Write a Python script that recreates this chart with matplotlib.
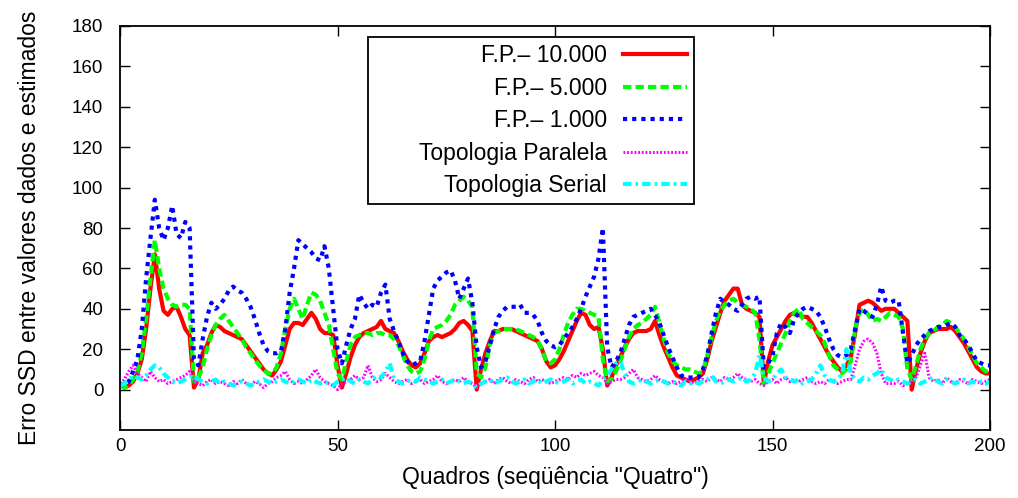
import matplotlib
matplotlib.use('Agg')
import matplotlib.pyplot as plt
import numpy as np

plt.rcParams['font.family'] = ['Liberation Sans', 'DejaVu Sans']

# SSD error per frame of the "Quatro" sequence
frames = np.arange(0, 201)

fp_10000 = [
    3, 1, 2, 4, 8, 15, 30, 50, 67, 50,
    39, 37, 40, 41, 36, 30, 27, 1, 5, 18,
    22, 28, 32, 31, 29, 28, 27, 26, 25, 22,
    19, 16, 13, 10, 8, 7, 10, 14, 22, 30,
    33, 33, 32, 35, 38, 35, 30, 28, 28, 27,
    12, 1, 8, 16, 22, 26, 28, 29, 30, 31,
    34, 30, 29, 28, 24, 19, 15, 12, 11, 13,
    18, 24, 26, 27, 26, 27, 28, 30, 33, 34,
    32, 29, 0, 10, 18, 24, 29, 29, 30, 30,
    30, 29, 28, 27, 26, 25, 24, 20, 14, 11,
    12, 15, 19, 24, 29, 34, 38, 37, 32, 30,
    31, 20, 2, 6, 12, 16, 21, 25, 28, 29,
    29, 29, 30, 34, 27, 21, 16, 11, 7, 6,
    5, 4, 5, 6, 8, 15, 24, 31, 38, 44,
    47, 50, 50, 42, 40, 39, 38, 36, 3, 14,
    22, 26, 30, 34, 37, 38, 37, 36, 36, 33,
    29, 25, 21, 17, 14, 11, 9, 12, 16, 28,
    42, 43, 44, 43, 41, 39, 40, 40, 40, 38,
    36, 34, 0, 10, 18, 24, 28, 29, 30, 30,
    30, 31, 29, 26, 23, 19, 15, 11, 9, 8,
    8,
]

fp_5000 = [
    2, 1, 2, 5, 9, 18, 35, 55, 74, 60,
    50, 45, 42, 41, 42, 42, 40, 4, 6, 11,
    20, 27, 32, 35, 37, 34, 31, 28, 25, 21,
    18, 15, 12, 10, 8, 8, 11, 18, 30, 40,
    45, 40, 35, 42, 48, 47, 44, 38, 32, 20,
    8, 5, 14, 22, 26, 27, 28, 28, 27, 28,
    28, 27, 27, 25, 22, 17, 12, 9, 8, 9,
    15, 24, 30, 31, 32, 34, 37, 42, 44, 46,
    44, 41, 8, 6, 11, 22, 28, 29, 30, 30,
    30, 30, 29, 28, 27, 26, 24, 20, 14, 13,
    15, 20, 27, 33, 37, 40, 40, 39, 38, 37,
    36, 15, 4, 5, 9, 14, 20, 26, 30, 32,
    33, 35, 37, 41, 33, 25, 18, 14, 12, 11,
    10, 10, 9, 8, 9, 17, 26, 34, 39, 42,
    44, 45, 43, 42, 41, 40, 38, 25, 3, 8,
    13, 18, 23, 28, 34, 38, 40, 35, 33, 31,
    29, 27, 23, 17, 12, 10, 8, 10, 14, 30,
    38, 40, 37, 34, 35, 34, 36, 38, 37, 36,
    30, 10, 5, 12, 20, 25, 28, 29, 31, 32,
    34, 33, 31, 28, 25, 21, 17, 13, 11, 9,
    9,
]

fp_1000 = [
    3, 2, 4, 9, 15, 30, 55, 75, 94, 80,
    74, 80, 91, 77, 75, 83, 80, 15, 12, 25,
    36, 43, 40, 42, 45, 49, 51, 49, 48, 45,
    41, 35, 28, 22, 19, 18, 18, 19, 30, 48,
    60, 74, 72, 70, 68, 65, 64, 71, 60, 40,
    20, 13, 22, 30, 35, 47, 43, 40, 42, 41,
    48, 52, 35, 29, 24, 18, 14, 12, 13, 14,
    24, 37, 50, 54, 56, 58, 59, 54, 45, 50,
    55, 43, 21, 11, 14, 22, 30, 36, 39, 41,
    41, 41, 42, 38, 38, 37, 34, 28, 24, 22,
    21, 22, 25, 28, 31, 35, 40, 46, 51, 56,
    65, 80, 21, 11, 14, 18, 25, 32, 36, 37,
    38, 39, 40, 37, 33, 27, 21, 16, 11, 7,
    6, 6, 6, 6, 10, 17, 28, 38, 45, 43,
    42, 40, 39, 42, 45, 46, 45, 46, 11, 13,
    17, 28, 33, 31, 28, 35, 38, 40, 41, 40,
    39, 36, 31, 25, 20, 17, 16, 17, 20, 30,
    40, 39, 37, 36, 42, 51, 44, 43, 44, 44,
    28, 13, 17, 22, 25, 27, 29, 30, 31, 31,
    32, 33, 31, 27, 25, 22, 18, 14, 13, 12,
    12,
]

paralela = [
    3, 5, 9, 12, 8, 6, 4, 9, 6, 4,
    5, 3, 4, 5, 6, 7, 9, 4, 3, 2,
    4, 5, 3, 4, 3, 2, 4, 3, 5, 3,
    2, 4, 3, 1, 3, 4, 6, 7, 9, 5,
    3, 4, 3, 5, 7, 10, 6, 4, 3, 2,
    0, 3, 4, 5, 7, 5, 6, 12, 6, 4,
    5, 8, 6, 4, 3, 4, 5, 3, 4, 5,
    3, 4, 5, 7, 4, 3, 4, 5, 4, 6,
    4, 3, 1, 3, 4, 5, 3, 5, 6, 4,
    3, 5, 4, 3, 5, 6, 4, 5, 4, 3,
    4, 5, 6, 5, 7, 6, 8, 7, 8, 9,
    7, 6, 3, 4, 5, 5, 6, 8, 10, 6,
    5, 4, 5, 7, 5, 4, 3, 4, 3, 4,
    5, 4, 3, 4, 5, 4, 6, 5, 4, 6,
    5, 6, 8, 6, 5, 4, 5, 3, 2, 4,
    5, 3, 5, 6, 4, 5, 4, 5, 6, 4,
    3, 4, 3, 5, 4, 3, 4, 5, 5, 12,
    20, 24, 25, 23, 18, 8, 3, 3, 3, 4,
    2, 3, 4, 6, 12, 18, 6, 4, 5, 3,
    6, 4, 3, 5, 4, 3, 5, 4, 3, 4,
    5,
]

serial = [
    2, 3, 5, 7, 6, 5, 7, 10, 12, 11,
    8, 6, 4, 3, 4, 5, 6, 7, 5, 4,
    3, 4, 5, 3, 4, 3, 2, 3, 4, 3,
    2, 3, 4, 5, 4, 3, 4, 5, 4, 3,
    4, 5, 4, 3, 5, 4, 3, 4, 3, 2,
    4, 5, 6, 4, 3, 5, 4, 3, 5, 7,
    6, 9, 13, 5, 4, 3, 4, 5, 4, 6,
    5, 4, 3, 4, 5, 3, 4, 5, 4, 3,
    4, 3, 1, 3, 4, 5, 3, 4, 5, 6,
    4, 3, 4, 5, 3, 4, 5, 3, 4, 5,
    4, 3, 4, 5, 3, 4, 5, 3, 4, 3,
    2, 5, 7, 10, 13, 14, 8, 4, 3, 4,
    5, 4, 3, 4, 5, 4, 3, 4, 3, 2,
    4, 3, 4, 3, 4, 5, 7, 4, 3, 4,
    5, 4, 5, 6, 4, 5, 8, 17, 6, 4,
    5, 8, 10, 6, 5, 4, 5, 3, 4, 5,
    8, 12, 7, 5, 4, 5, 8, 20, 8, 5,
    4, 6, 5, 7, 8, 10, 6, 5, 4, 5,
    4, 3, 4, 5, 3, 4, 5, 6, 4, 3,
    5, 4, 3, 4, 5, 3, 4, 3, 4, 3,
    4,
]

fig = plt.figure(figsize=(10.18, 4.98), dpi=100)
ax = fig.add_axes([0.1179, 0.1365, 0.8546, 0.8113])

ax.plot(frames, fp_10000, color='#ff0000', lw=3, label='F.P.\u2013 10.000')
ax.plot(frames, fp_5000, color='#00ff00', lw=3, dashes=(2, 1), label='F.P.\u2013 5.000')
ax.plot(frames, fp_1000, color='#0000ff', lw=3, dashes=(1, 1.2), label='F.P.\u2013 1.000')
ax.plot(frames, paralela, color='#ff00ff', lw=2.2, dashes=(0.6, 0.6), label='Topologia Paralela')
ax.plot(frames, serial, color='#00ffff', lw=3, dashes=(2, 1, 0.6, 1), label='Topologia Serial')

ax.set_xlim(0, 200)
ax.set_ylim(-20, 180)
ax.set_xticks([0, 50, 100, 150, 200])
ax.set_yticks(np.arange(0, 181, 20))
ax.tick_params(direction='in', length=7, width=1, top=True, right=True,
               labelsize=13.5)
ax.tick_params(axis='x', pad=6)
ax.tick_params(axis='y', pad=12)
for s in ax.spines.values():
    s.set_linewidth(1.3)

ax.set_xlabel('Quadros (seq\u00fc\u00eancia "Quatro")', fontsize=16.5, labelpad=8)
ax.set_ylabel('Erro SSD entre valores dados e estimados', fontsize=16.5, labelpad=22)

leg = ax.legend(loc='upper left', bbox_to_anchor=(0.285, 0.9727), markerfirst=False,
                fancybox=False, framealpha=1, edgecolor='black', fontsize=16.5,
                handlelength=2.8, handletextpad=0.7, labelspacing=0.42,
                borderpad=0.3, borderaxespad=0)
leg.get_frame().set_linewidth(1.3)
# widen the key column so the entries sit right-aligned in a wider box
leg._legend_handle_box.get_children()[0].width = 312

fig.savefig('out.png', dpi=100)
